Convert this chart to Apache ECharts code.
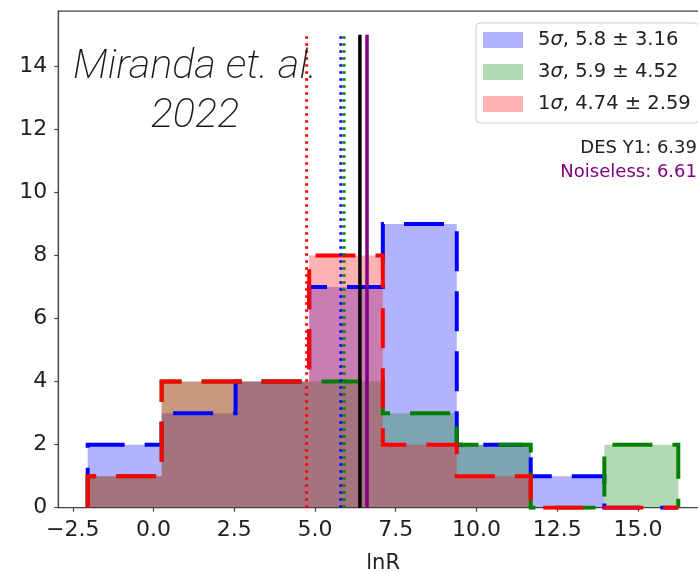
<!DOCTYPE html>
<html>
<head>
<meta charset="utf-8">
<script src="https://cdn.jsdelivr.net/npm/echarts@6/dist/echarts.min.js"></script>
<style>
  html, body { margin: 0; padding: 0; background: #fff; }
  #chart { width: 698px; height: 572px; }
</style>
</head>
<body>
<div id="chart"></div>
<script>
// histogram bins (lnR) and counts per noise level
const binEdges = [-2.04, 0.25, 2.54, 4.82, 7.10, 9.39, 11.68, 13.96, 16.25];
const counts5 = [2, 3, 4, 7, 9, 2, 1, 0];
const counts3 = [1, 4, 4, 4, 3, 2, 0, 2];
const counts1 = [1, 4, 4, 8, 2, 1, 0, 0];
const seriesNames = ['5σ, 5.8 ± 3.16', '3σ, 5.9 ± 4.52', '1σ, 4.74 ± 2.59'];
const meanValues = [5.8, 5.9, 4.74];
const desY1 = 6.39;
const noiseless = 6.61;
const lineTop = 15;
const xTicks = [-2.5, 0, 2.5, 5, 7.5, 10, 12.5, 15];
const yTicks = [0, 2, 4, 6, 8, 10, 12, 14];

const edgeColors = ['#0000ff', '#008000', '#ff0000'];
const fillColors = ['rgba(0,0,255,0.3)', 'rgba(0,128,0,0.3)', 'rgba(255,0,0,0.3)'];
const font = 'DejaVu Sans';

function stepPoints(counts) {
  const pts = [[binEdges[0], 0]];
  counts.forEach((c, i) => pts.push([binEdges[i], c]));
  pts.push([binEdges[binEdges.length - 1], 0]);
  return pts;
}

const allCounts = [counts5, counts3, counts1];
const series = [];
allCounts.forEach((counts, i) => {
  series.push({
    name: seriesNames[i],
    type: 'line',
    step: 'end',
    data: stepPoints(counts),
    showSymbol: false,
    color: fillColors[i],
    lineStyle: { width: 0, opacity: 0 },
    areaStyle: { color: fillColors[i], opacity: 1 },
    silent: true,
    z: 2
  });
});
allCounts.forEach((counts, i) => {
  series.push({
    type: 'line',
    step: 'end',
    data: stepPoints(counts),
    showSymbol: false,
    lineStyle: { color: edgeColors[i], width: 4, type: [40, 20], cap: 'butt', join: 'miter' },
    silent: true,
    z: 3
  });
});
// mean markers (dotted)
meanValues.forEach((v, i) => {
  series.push({
    type: 'line',
    data: [[v, 0], [v, lineTop]],
    showSymbol: false,
    lineStyle: { color: edgeColors[i], width: 3, type: [2.5, 4.5] },
    silent: true,
    z: 4
  });
});
series.push({
  type: 'line',
  data: [[desY1, 0], [desY1, lineTop]],
  showSymbol: false,
  lineStyle: { color: '#000', width: 3.5 },
  silent: true,
  z: 5
});
series.push({
  type: 'line',
  data: [[noiseless, 0], [noiseless, lineTop]],
  showSymbol: false,
  lineStyle: { color: '#800080', width: 3.5 },
  silent: true,
  z: 5
});

const chart = echarts.init(document.getElementById('chart'));
chart.setOption({
  animation: false,
  grid: {
    left: 58.3, top: 11.2, bottom: 64.3, right: -10,
    outerBoundsMode: 'none',
    containLabel: false,
    show: true, borderColor: '#444', borderWidth: 1.2, backgroundColor: 'transparent'
  },
  xAxis: {
    type: 'value',
    min: -2.95,
    max: 17.17,
    name: 'lnR',
    nameLocation: 'middle',
    nameGap: 45,
    nameTextStyle: { fontFamily: font, fontSize: 21, color: '#222' },
    axisLine: { show: true, onZero: false, lineStyle: { color: '#444', width: 1.2 } },
    axisTick: { show: true, length: 4, customValues: xTicks, lineStyle: { color: '#444', width: 1.2 } },
    axisLabel: {
      customValues: xTicks,
      margin: 12,
      fontFamily: font, fontSize: 22, color: '#222',
      formatter: v => (v < 0 ? '\u2212' : '') + Math.abs(v).toFixed(1)
    },
    splitLine: { show: false }
  },
  yAxis: {
    type: 'value',
    min: 0,
    max: 15.75,
    axisLine: { show: true, onZero: false, lineStyle: { color: '#444', width: 1.2 } },
    axisTick: { show: true, length: 4, customValues: yTicks, lineStyle: { color: '#444', width: 1.2 } },
    axisLabel: {
      customValues: yTicks,
      margin: 11,
      fontFamily: font, fontSize: 22, color: '#222'
    },
    splitLine: { show: false }
  },
  legend: {
    orient: 'vertical',
    left: 476,
    top: 23,
    data: seriesNames,
    icon: 'rect',
    itemWidth: 40,
    itemHeight: 16,
    itemGap: 12,
    padding: [7, 8, 9, 7],
    backgroundColor: 'rgba(255,255,255,0.8)',
    borderColor: '#ccc',
    borderWidth: 1,
    borderRadius: 4,
    itemStyle: { borderWidth: 0 },
    selectedMode: false,
    formatter: name => name.replace('σ', '{s|σ}'),
    textStyle: {
      fontFamily: font, fontSize: 19.5, color: '#222',
      padding: [0, 0, 0, 10],
      rich: { s: { fontFamily: font, fontSize: 19.5, fontStyle: 'italic', color: '#222' } }
    }
  },
  graphic: [
    {
      type: 'text',
      x: 195,
      y: 92,
      style: {
        text: 'Miranda et. al.\n2022',
        align: 'center', verticalAlign: 'middle',
        lineHeight: 49,
        fontFamily: 'Roboto', fontWeight: 200, fontStyle: 'italic', fontSize: 41.5,
        fill: '#1a1a1a'
      },
      z: 10
    },
    {
      type: 'text',
      x: 697,
      y: 148,
      style: {
        text: 'DES Y1: 6.39',
        align: 'right', verticalAlign: 'middle',
        fontFamily: font, fontSize: 18, fill: '#222'
      },
      z: 10
    },
    {
      type: 'text',
      x: 697,
      y: 172,
      style: {
        text: 'Noiseless: 6.61',
        align: 'right', verticalAlign: 'middle',
        fontFamily: font, fontSize: 18, fill: '#800080'
      },
      z: 10
    }
  ],
  series: series
});
</script>
</body>
</html>
